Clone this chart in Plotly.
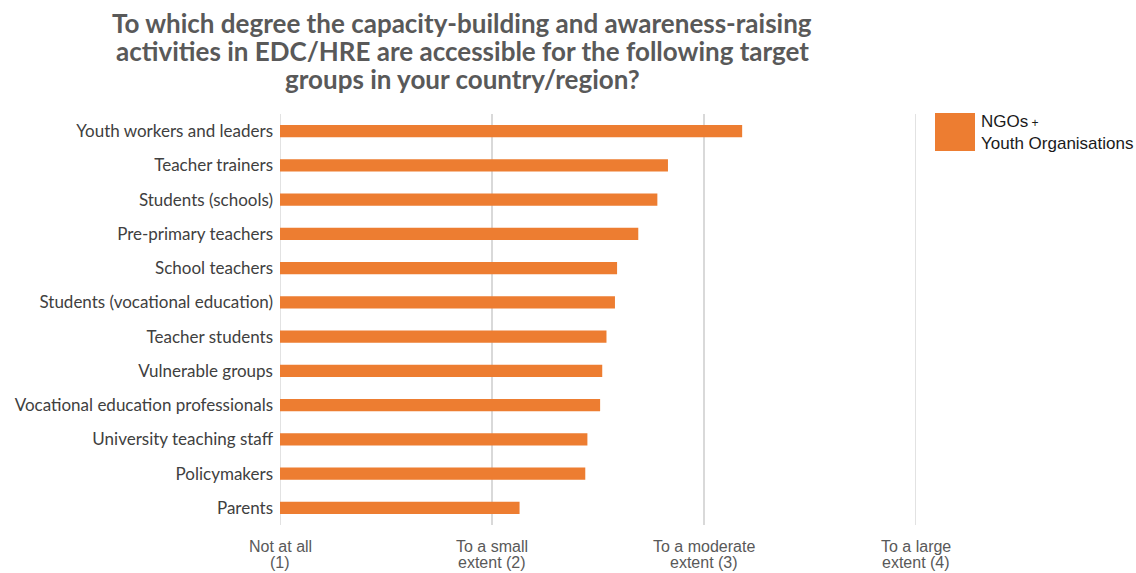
import plotly.graph_objects as go

# Target groups (top to bottom) and mean accessibility score on a 1-4 scale
groups = [
    "Youth workers and leaders",
    "Teacher trainers",
    "Students (schools)",
    "Pre-primary teachers",
    "School teachers",
    "Students (vocational education)",
    "Teacher students",
    "Vulnerable groups",
    "Vocational education professionals",
    "University teaching staff",
    "Policymakers",
    "Parents",
]
scores = [3.18, 2.83, 2.78, 2.69, 2.59, 2.58, 2.54, 2.52, 2.51, 2.45, 2.44, 2.13]

scale_values = [1, 2, 3, 4]
scale_labels = [
    ("Not at all", "(1)"),
    ("To a small", "extent (2)"),
    ("To a moderate", "extent (3)"),
    ("To a large", "extent (4)"),
]

title_lines = [
    "To which degree the capacity-building and awareness-raising",
    "activities in EDC/HRE are accessible for the following target",
    "groups in your country/region?",
]

series_name = "NGOs + Youth Organisations"
orange = "#ED7D31"
grid_color = "#d9d9d9"

# plot area geometry in pixels
W, H = 1136, 573
L, R, T, B = 280, 916, 114, 525


def py(pix):
    """Convert a pixel row to paper y."""
    return (B - pix) / (B - T)


def px(pix):
    """Convert a pixel column to paper x."""
    return (pix - L) / (R - L)


fig = go.Figure()
fig.add_trace(go.Bar(
    y=groups,
    x=[s - 1 for s in scores],
    base=1,
    orientation="h",
    marker=dict(color=orange, line=dict(width=0)),
    name=series_name,
    showlegend=False,
))

fig.update_layout(
    width=W,
    height=H,
    margin=dict(l=L, r=W - R, t=T, b=H - B, autoexpand=False),
    paper_bgcolor="white",
    plot_bgcolor="white",
    bargap=0.64,
    xaxis=dict(
        range=[1, 4],
        tickvals=scale_values,
        showticklabels=False,
        showgrid=True,
        gridcolor=grid_color,
        gridwidth=1.5,
        zeroline=False,
        showline=False,
        automargin=False,
        fixedrange=True,
    ),
    yaxis=dict(
        categoryorder="array",
        categoryarray=groups[::-1],
        showgrid=False,
        zeroline=False,
        showline=False,
        automargin=False,
        tickfont=dict(family="Lato, Calibri, sans-serif", size=17, color="#404040"),
        ticklabelstandoff=6,
    ),
    font=dict(family="Lato, sans-serif"),
)

# gridlines at both ends of the scale
for v in (scale_values[0], scale_values[-1]):
    fig.add_shape(
        type="line", xref="x", yref="paper",
        x0=v, x1=v, y0=0, y1=1,
        line=dict(color=grid_color, width=1.5),
        layer="below",
    )

# two-line scale labels under each gridline, set with tight line spacing
tick_font = dict(family="Liberation Sans, Arial, sans-serif", size=16, color="#595959")
for v, (first, second) in zip(scale_values, scale_labels):
    for text, row in ((first, 546), (second, 562)):
        fig.add_annotation(
            text=text, xref="x", yref="paper",
            x=v, y=py(row),
            xanchor="center", yanchor="middle",
            showarrow=False, font=tick_font, borderpad=0,
        )

# Title, one annotation per line
for i, line in enumerate(title_lines):
    fig.add_annotation(
        text=line,
        xref="paper", yref="paper",
        x=px(462), y=py(23 + 28 * i),
        xanchor="center", yanchor="middle",
        showarrow=False, borderpad=0,
        font=dict(family="Lato, sans-serif", size=26, color="#595959", weight="bold"),
    )

# Legend swatch and label
fig.add_shape(
    type="rect", xref="paper", yref="paper",
    x0=px(935), x1=px(975),
    y0=py(151), y1=py(113),
    fillcolor=orange, line=dict(width=0),
)
fig.add_annotation(
    text="NGOs<span style='font-size:12px'> +</span><br>Youth Organisations",
    xref="paper", yref="paper",
    x=px(979), y=py(110),
    xanchor="left", yanchor="top",
    showarrow=False, align="left",
    font=dict(family="Liberation Sans, Arial, sans-serif", size=17, color="#1a1a1a"),
)

fig.write_html("out.html")
